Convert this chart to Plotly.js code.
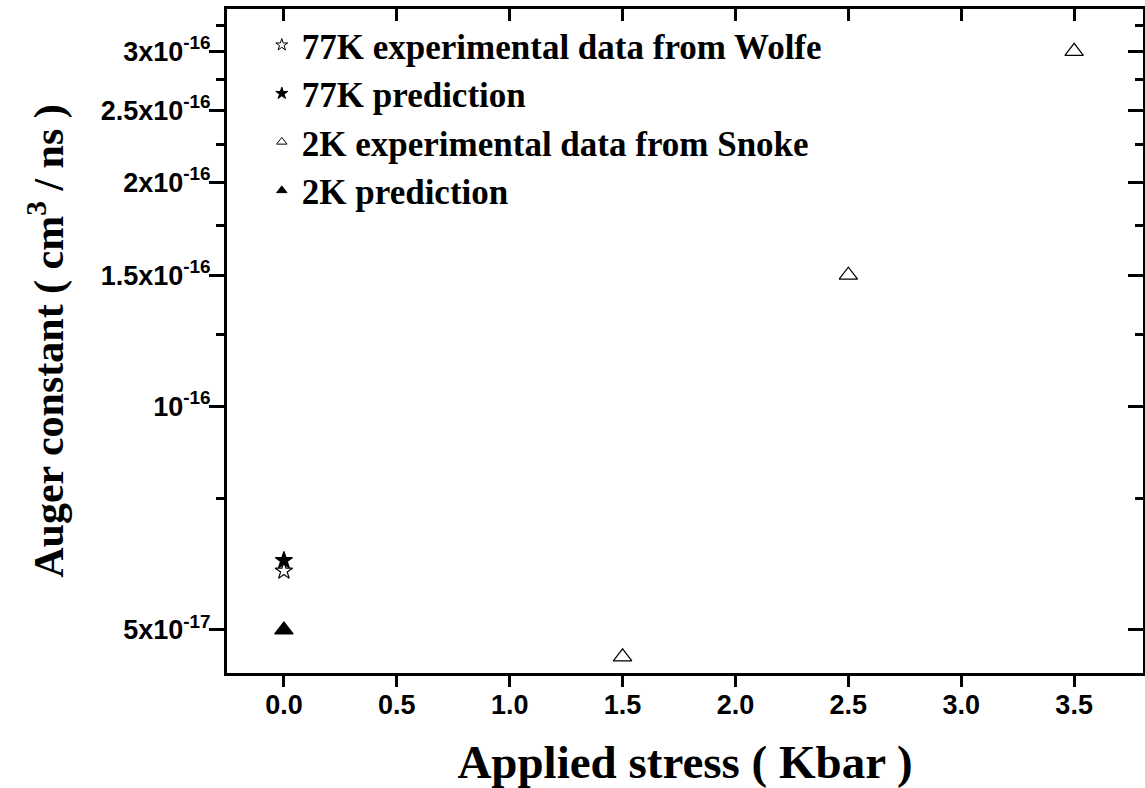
<!DOCTYPE html>
<html><head><meta charset="utf-8">
<script src="https://cdn.plot.ly/plotly-3.0.1.min.js"></script>
<style>html,body{margin:0;padding:0;background:#fff}#chart{width:1145px;height:788px}</style>
</head><body><div id="chart"></div>
<script>
// ---- data ----
const wolfeX = [0];
const wolfeY = [6.0e-17];
const pred77X = [0];
const pred77Y = [6.2e-17];
const snokeX = [1.5, 2.5, 3.5];
const snokeY = [4.6e-17, 1.5e-16, 3.0e-16];
const pred2X = [0];
const pred2Y = [5.0e-17];
const seriesNames = ['77K experimental data from Wolfe', '77K prediction', '2K experimental data from Snoke', '2K prediction'];
const yTickVals = [5e-17, 1e-16, 1.5e-16, 2e-16, 2.5e-16, 3e-16];
const yTickText = ['5x10<sup>-17</sup>', '10<sup>-16</sup>', '1.5x10<sup>-16</sup>', '2x10<sup>-16</sup>', '2.5x10<sup>-16</sup>', '3x10<sup>-16</sup>'];
const yMinorVals = [7.5e-17, 1.25e-16, 1.75e-16, 2.25e-16, 2.75e-16, 3.25e-16];
const xTickVals = [0, 0.5, 1, 1.5, 2, 2.5, 3, 3.5];
const xTickText = ['0.0', '0.5', '1.0', '1.5', '2.0', '2.5', '3.0', '3.5'];

const symbols = ['star-open', 'star', 'triangle-up-open', 'triangle-up'];
const sizes = [13, 13, 16, 16];
const xs = [wolfeX, pred77X, snokeX, pred2X];
const ys = [wolfeY, pred77Y, snokeY, pred2Y];

const traces = [];
for (let i = 0; i < 4; i++) {
  traces.push({
    x: xs[i], y: ys[i], type: 'scatter', mode: 'markers', name: seriesNames[i],
    legendgroup: 'g' + i, showlegend: false, cliponaxis: false,
    marker: {symbol: symbols[i], size: sizes[i], color: '#000', line: {color: '#000', width: 1.2}}
  });
}
// legend entries with small symbols
for (let i = 0; i < 4; i++) {
  traces.push({
    x: [null], y: [null], type: 'scatter', mode: 'markers', name: seriesNames[i],
    legendgroup: 'g' + i, showlegend: true,
    marker: {symbol: symbols[i], size: 9, color: '#000', line: {color: '#000', width: 1}}
  });
}
// carrier for mirrored inside ticks
traces.push({x: [null], y: [null], xaxis: 'x2', yaxis: 'y2', type: 'scatter', mode: 'markers', showlegend: false, hoverinfo: 'skip'});

const xRange = [-0.252, 3.805];
const yRange = [-16.359, -15.466];
const tickFont = {family: 'Liberation Sans, Arial, sans-serif', size: 27, color: '#000', weight: 'bold'};
const serif = 'Liberation Serif, Times New Roman, serif';

const layout = {
  width: 1145, height: 788,
  margin: {l: 227, r: 2, t: 9, b: 115},
  paper_bgcolor: '#fff', plot_bgcolor: '#fff',
  showlegend: true,
  legend: {
    x: 0.038, y: 0.99, xanchor: 'left', yanchor: 'top',
    bgcolor: 'rgba(0,0,0,0)', borderwidth: 0,
    font: {family: serif, size: 35, color: '#000', weight: 'bold'},
    tracegroupgap: 0, itemclick: false
  },
  xaxis: {
    range: xRange, showgrid: false, zeroline: false,
    showline: true, linewidth: 3, linecolor: '#000', mirror: true,
    tickmode: 'array', tickvals: xTickVals, ticktext: xTickText,
    ticks: 'outside', ticklen: 11, tickwidth: 3, tickcolor: '#000',
    tickfont: tickFont, ticklabelstandoff: -5,
    title: {text: 'Applied stress ( Kbar )', font: {family: serif, size: 47, color: '#000', weight: 'bold'}, standoff: 30},
    automargin: false
  },
  yaxis: {
    type: 'log', range: yRange, showgrid: false, zeroline: false,
    showline: true, linewidth: 3, linecolor: '#000', mirror: true,
    tickmode: 'array', tickvals: yTickVals, ticktext: yTickText,
    ticks: 'outside', ticklen: 15, tickwidth: 3, tickcolor: '#000',
    minor: {tickmode: 'array', tickvals: yMinorVals, ticks: 'outside', ticklen: 8, tickwidth: 3, tickcolor: '#000', showgrid: false},
    tickfont: tickFont, ticklabelstandoff: -7,
    title: {text: 'Auger constant ( cm<sup>3</sup> / ns )', font: {family: serif, size: 42, color: '#000', weight: 'bold'}, standoff: 24},
    automargin: false
  },
  xaxis2: {
    overlaying: 'x', side: 'top', anchor: 'y2', range: xRange, showgrid: false, zeroline: false,
    showline: false, tickmode: 'array', tickvals: xTickVals, showticklabels: false,
    ticks: 'inside', ticklen: 12, tickwidth: 3, tickcolor: '#000', automargin: false
  },
  yaxis2: {
    overlaying: 'y', side: 'right', anchor: 'x2', type: 'log', range: yRange, showgrid: false, zeroline: false,
    showline: false, tickmode: 'array', tickvals: yTickVals, showticklabels: false,
    ticks: 'inside', ticklen: 15, tickwidth: 3, tickcolor: '#000',
    minor: {tickmode: 'array', tickvals: yMinorVals, ticks: 'inside', ticklen: 8, tickwidth: 3, tickcolor: '#000', showgrid: false},
    automargin: false
  }
};

Plotly.newPlot('chart', traces, layout, {displayModeBar: false, staticPlot: true});
</script>
</body></html>
